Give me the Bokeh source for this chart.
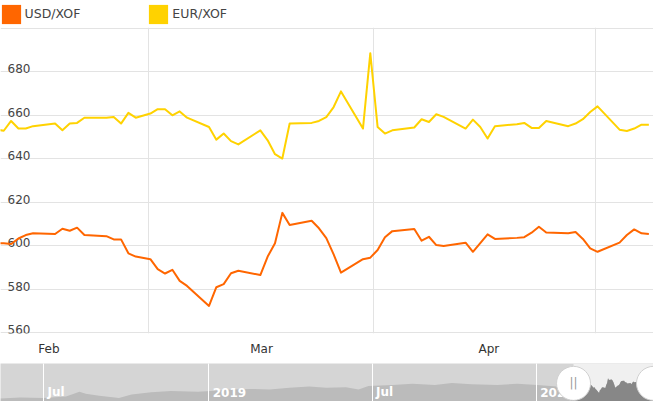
import pandas as pd
from bokeh.plotting import figure
from bokeh.models import Range1d, FixedTicker, Legend, LegendItem, BoxAnnotation
from bokeh.layouts import column
from bokeh.core.properties import value
from bokeh.embed import file_html
from bokeh.resources import INLINE

# ---------------- data ----------------
dates = ["2020-01-24", "2020-01-27", "2020-01-28", "2020-01-29", "2020-01-30", "2020-01-31",
         "2020-02-03", "2020-02-04", "2020-02-05", "2020-02-06", "2020-02-07",
         "2020-02-10", "2020-02-11", "2020-02-12", "2020-02-13", "2020-02-14", "2020-02-16",
         "2020-02-17", "2020-02-18", "2020-02-19", "2020-02-20", "2020-02-21",
         "2020-02-24", "2020-02-25", "2020-02-26", "2020-02-27", "2020-02-28",
         "2020-03-02", "2020-03-03", "2020-03-04", "2020-03-05", "2020-03-06",
         "2020-03-09", "2020-03-10", "2020-03-11", "2020-03-12", "2020-03-13",
         "2020-03-16", "2020-03-17", "2020-03-18", "2020-03-19", "2020-03-20",
         "2020-03-23", "2020-03-24", "2020-03-25", "2020-03-26", "2020-03-27",
         "2020-03-30", "2020-03-31", "2020-04-01", "2020-04-02", "2020-04-03",
         "2020-04-06", "2020-04-07", "2020-04-08", "2020-04-09", "2020-04-10",
         "2020-04-13", "2020-04-14", "2020-04-15", "2020-04-16", "2020-04-17",
         "2020-04-20", "2020-04-21", "2020-04-22", "2020-04-23", "2020-04-24"]
usd_xof = [601.0, 601.1, 600.8, 603.3, 604.9, 605.7,
           605.4, 607.8, 606.9, 608.3, 604.9,
           604.4, 602.9, 602.9, 596.5, 595.0, 593.8,
           589.2, 587.2, 588.9, 583.8, 581.5,
           572.3, 580.9, 582.3, 587.3, 588.5,
           586.5, 595.0, 601.1, 615.1, 609.5,
           611.5, 608.0, 603.5, 596.0, 587.6,
           593.8, 594.5, 598.0, 603.9, 606.7,
           607.7, 602.3, 604.1, 600.3, 599.9,
           601.4, 597.2, 601.2, 605.2, 603.1,
           603.6, 603.9, 606.0, 608.7, 606.1,
           605.7, 606.3, 603.1, 598.8, 597.2,
           601.4, 604.9, 607.5, 605.7, 605.4]
eur_xof = [654.5, 652.9, 657.4, 653.9, 653.9, 655.0,
           656.2, 653.1, 656.2, 656.5, 658.9,
           658.9, 659.2, 656.2, 661.1, 658.9, 660.8,
           662.8, 662.8, 660.0, 661.8, 658.9,
           654.6, 648.8, 651.6, 648.1, 646.6,
           653.1, 648.5, 642.1, 640.1, 656.2,
           656.5, 657.4, 659.2, 663.8, 671.0,
           653.9, 688.6, 654.6, 651.6, 653.1,
           654.4, 658.2, 656.9, 660.5, 659.3,
           653.9, 658.0, 654.6, 649.3, 655.0,
           655.9, 656.5, 654.2, 654.2, 657.4,
           655.0, 656.2, 658.2, 661.5, 664.1,
           653.4, 652.8, 653.9, 655.7, 655.7]

# navigator (scrollbar) history of USD/XOF
nav_dates = ["2018-04-28", "2018-05-20", "2018-06-15", "2018-07-10", "2018-07-25", "2018-08-01",
             "2018-08-16", "2018-09-07", "2018-09-21", "2018-10-13", "2018-11-04", "2018-12-04",
             "2018-12-18", "2019-01-09", "2019-01-31", "2019-02-22", "2019-03-16", "2019-04-07",
             "2019-04-26", "2019-05-18", "2019-06-01", "2019-06-12", "2019-07-09", "2019-07-31",
             "2019-08-25", "2019-09-13", "2019-10-05", "2019-11-03", "2019-11-25", "2019-12-17",
             "2020-01-08"]
nav_usd = [556, 559, 557.5, 562, 576, 570,
           564, 557.5, 567.5, 574, 578, 576,
           578, 582, 584, 582, 587, 591,
           587, 589, 582.5, 592.5, 595, 599,
           595, 601, 597.5, 595, 599, 595,
           591]

series_names = ["USD/XOF", "EUR/XOF"]
series_colors = ["#ff6600", "#ffd200"]

y_ticks = [560, 580, 600, 620, 640, 660, 680, 700]
y_labels = ["560", "580", "600", "620", "640", "660", "680"]
month_label_pos = ["2020-02-02 04:00", "2020-03-02 04:00", "2020-04-02 04:00"]
month_labels = ["Feb", "Mar", "Apr"]
grid_dates = ["2020-02-15 18:30", "2020-03-17 11:45", "2020-04-16 16:30"]
view_start, view_end = "2020-01-26 13:20", "2020-04-24 15:10"

nav_start, nav_end = "2018-04-28 00:00", "2020-04-24 16:00"
nav_grid = ["2018-06-15", "2018-12-16", "2019-06-16", "2019-12-16"]
nav_labels = ["Jul", "2019", "Jul", "2020"]


def ms(s):
    return pd.Timestamp(s).value // 10**6


FONT = "DejaVu Sans"
W = 653

# ---------------- legend strip ----------------
lg = figure(width=W, height=27, x_range=Range1d(0, 1), y_range=Range1d(0, 1),
            x_axis_location=None, y_axis_location=None,
            output_backend="svg", toolbar_location=None,
            min_border_left=0, min_border_right=0, min_border_top=0, min_border_bottom=0)
lg.outline_line_color = None
lg.grid.visible = False
sw = [lg.quad(left=[5], right=[6], top=[5], bottom=[6], fill_color=c, line_color=None)
      for c in series_colors]
legend = Legend(items=[LegendItem(label=nm, renderers=[r]) for nm, r in zip(series_names, sw)],
                orientation="horizontal", location=(-1.4, 1.4),
                glyph_width=24, glyph_height=24, label_standoff=2, spacing=66,
                padding=0, margin=0, border_line_alpha=0, background_fill_alpha=0,
                label_text_font=FONT, label_text_font_size="12.5px",
                label_text_color="#444444")
lg.add_layout(legend, "center")

# ---------------- main chart ----------------
x = pd.to_datetime(dates)
p = figure(width=W, height=336, x_axis_type="datetime",
           x_range=Range1d(ms(view_start), ms(view_end)),
           y_range=Range1d(559.6, 700.4), y_axis_location=None,
           output_backend="svg", toolbar_location=None,
           min_border_left=0, min_border_right=0, min_border_top=0, min_border_bottom=30)
p.outline_line_color = None
p.background_fill_color = "white"

p.ygrid.ticker = FixedTicker(ticks=y_ticks)
p.ygrid.grid_line_color = "#e3e3e3"
p.xgrid.ticker = FixedTicker(ticks=[ms(d) for d in grid_dates])
p.xgrid.grid_line_color = "#e3e3e3"

ax = p.xaxis[0]
ax.ticker = FixedTicker(ticks=[ms(d) for d in month_label_pos])
ax.major_label_overrides = {ms(d): l for d, l in zip(month_label_pos, month_labels)}
ax.axis_line_color = None
ax.major_tick_line_color = None
ax.minor_tick_line_color = None
ax.major_tick_out = 0
ax.major_tick_in = 0
ax.major_label_standoff = 8
ax.major_label_text_font = FONT
ax.major_label_text_font_size = "12px"
ax.major_label_text_color = "#333333"

p.text(x=[ms(view_start)] * len(y_labels), y=y_ticks[:len(y_labels)], text=y_labels,
       x_offset=7, y_offset=-3, text_align="left", text_baseline="alphabetic",
       text_font=value(FONT), text_font_size="12px", text_color="#444444")

p.line(x=x, y=usd_xof, line_color=series_colors[0], line_width=2, line_join="round")
p.line(x=x, y=eur_xof, line_color=series_colors[1], line_width=2, line_join="round")

# ---------------- navigator ----------------
n = figure(width=W, height=38, x_axis_type="datetime",
           x_range=Range1d(ms(nav_start), ms(nav_end)), y_range=Range1d(547.5, 657.5),
           x_axis_location=None, y_axis_location=None,
           output_backend="svg", toolbar_location=None,
           min_border_left=0, min_border_right=0, min_border_top=0, min_border_bottom=0)
n.outline_line_color = None
n.background_fill_color = "#d5d5d5"
n.ygrid.visible = False
n.xgrid.ticker = FixedTicker(ticks=[ms(d) for d in nav_grid])
n.xgrid.grid_line_color = "white"
n.xgrid.grid_line_width = 1
n.xgrid.level = "overlay"

n.add_layout(BoxAnnotation(left=ms(view_start), fill_color="#f0f0f0", fill_alpha=1,
                           line_alpha=0, level="underlay"))

all_nav_x = list(pd.to_datetime(nav_dates)) + list(x)
all_nav_y = nav_usd + usd_xof
n.varea(x=all_nav_x, y1=540, y2=all_nav_y, fill_color="#bbbbbb")
n.varea(x=x, y1=540, y2=usd_xof, fill_color="#878787")

n.text(x=[ms(d) for d in nav_grid], y=[547.5] * len(nav_grid), text=nav_labels,
       x_offset=4, y_offset=-9.5, text_align="left", text_baseline="middle",
       text_font=value(FONT), text_font_size="12px", text_font_style="bold",
       text_color="white")

grips = [ms(view_start), ms(view_end)]
n.scatter(x=grips, y=[600, 600], size=34, marker="circle",
          fill_color="white", line_color="#d0d0d0", line_width=1)
# grip bars on the (fully visible) left handle
n.text(x=grips[:1], y=[600], text=["||"], text_align="center",
       text_baseline="middle", text_font=value(FONT), text_font_size="12px",
       text_color="#999999")

layout = column(lg, p, n, spacing=0)
open("out.html", "w").write(file_html(layout, INLINE))
